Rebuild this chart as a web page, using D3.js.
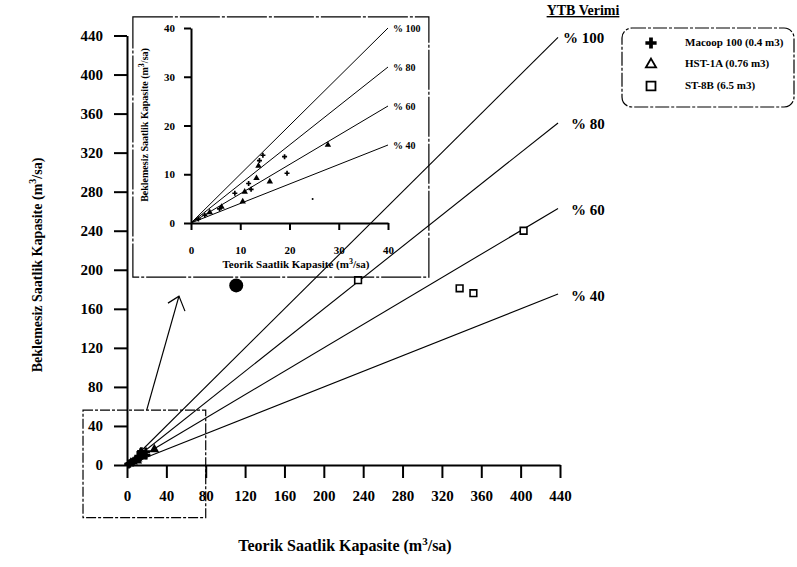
<!DOCTYPE html>
<html lang="tr">
<head>
    <meta charset="UTF-8">
    <title>YTB Verimi</title>
    <style>
        body { margin: 0; background: #fff; }
        svg text { font-family: 'Liberation Serif', 'Times New Roman', serif; font-weight: bold; fill: #000; }
        .axis path, .axis line { stroke: #000; }
    </style>
    <script src="https://cdnjs.cloudflare.com/ajax/libs/d3/7.8.5/d3.min.js"></script>
</head>
<body>
    <svg id="chart" width="797" height="567"></svg>
    <script>
        // tick labels
        let mainTicks = [0, 40, 80, 120, 160, 200, 240, 280, 320, 360, 400, 440];
        let insetTicks = [0, 10, 20, 30, 40];

        // efficiency lines (YTB Verimi, %)
        let efficiencies = [100, 80, 60, 40];

        // measured points [theoretical, no-wait] in m3/sa
        let macoopPts = [[14.6, 13.9], [13.9, 12.8], [19.0, 13.6], [19.5, 10.2], [11.7, 8.1],
                         [12.2, 6.9], [8.9, 6.1], [5.8, 2.9], [2.8, 1.6], [1.5, 0.8]];
        let hstPts = [[13.7, 11.7], [27.8, 16.0], [16.0, 8.5], [13.3, 9.2], [10.9, 6.4],
                      [10.5, 4.4], [6.2, 3.3], [3.8, 2.2]];
        let st8bPts = [[234.8, 189.4], [338, 181], [352, 176], [403, 240]];
        let blobPts = [[111, 184]];
        let speckPts = [[24.7, 4.9]];

        let legendItems = ["Macoop 100 (0.4 m3)", "HST-1A (0.76 m3)", "ST-8B (6.5 m3)"];

        let svg = d3.select("#chart");

        // ---------- main chart ----------
        let x = d3.scaleLinear().domain([0, 440]).range([127, 560]);
        let y = d3.scaleLinear().domain([0, 440]).range([465, 35.5]);

        let xAxis = svg.append("g")
            .attr("class", "axis")
            .attr("transform", "translate(0," + y(0) + ")")
            .call(d3.axisBottom(x).tickValues(mainTicks).tickSize(13).tickSizeOuter(0).tickPadding(12));
        xAxis.select(".domain").attr("stroke-width", 2);
        xAxis.selectAll(".tick line").attr("stroke-width", 2);
        xAxis.selectAll("text").style("font-size", "15px");

        let yAxis = svg.append("g")
            .attr("class", "axis")
            .attr("transform", "translate(" + x(0) + ",0)")
            .call(d3.axisLeft(y).tickValues(mainTicks).tickSize(13).tickSizeOuter(0).tickPadding(11));
        yAxis.select(".domain").attr("stroke-width", 2);
        yAxis.selectAll(".tick line").attr("stroke-width", 2);
        yAxis.selectAll("text").style("font-size", "15px");

        let lineEnd = 438;
        svg.selectAll(".effLine")
            .data(efficiencies)
            .enter().append("line")
            .attr("class", "effLine")
            .attr("x1", x(0)).attr("y1", y(0))
            .attr("x2", x(lineEnd))
            .attr("y2", d => y(lineEnd * d / 100))
            .attr("stroke", "#000").attr("stroke-width", 1.1);

        svg.selectAll(".effLabel")
            .data(efficiencies)
            .enter().append("text")
            .attr("class", "effLabel")
            .attr("x", d => d == 100 ? x(440) + 3 : x(440) + 11)
            .attr("y", d => y(440 * d / 100) + 4)
            .attr("dominant-baseline", "middle")
            .style("font-size", "15px")
            .text(d => "% " + d);

        svg.append("text")
            .attr("x", 583).attr("y", 15)
            .attr("text-anchor", "middle")
            .style("font-size", "14px")
            .style("text-decoration", "underline")
            .text("YTB Verimi");

        // points in main chart
        let crossSym = d3.symbol().type(d3.symbolCross);
        let triSym = d3.symbol().type(d3.symbolTriangle);
        let sqSym = d3.symbol().type(d3.symbolSquare);

        svg.selectAll(".mCross")
            .data(macoopPts)
            .enter().append("path")
            .attr("d", crossSym.size(40)())
            .attr("transform", d => "translate(" + x(d[0]) + "," + y(d[1]) + ")")
            .attr("fill", "#000");
        svg.selectAll(".mTri")
            .data(hstPts)
            .enter().append("path")
            .attr("d", triSym.size(40)())
            .attr("transform", d => "translate(" + x(d[0]) + "," + y(d[1]) + ")")
            .attr("fill", "#000");
        svg.selectAll(".mSq")
            .data(st8bPts)
            .enter().append("path")
            .attr("d", sqSym.size(45)())
            .attr("transform", d => "translate(" + x(d[0]) + "," + y(d[1]) + ")")
            .attr("fill", "#fff").attr("stroke", "#000").attr("stroke-width", 1.6);
        svg.selectAll(".mBlob")
            .data(blobPts)
            .enter().append("circle")
            .attr("cx", d => x(d[0])).attr("cy", d => y(d[1]))
            .attr("r", 7).attr("fill", "#000");

        // zoom box and arrow
        let boxX = [-44.7, 80], boxY = [-54, 56.3];
        svg.append("rect")
            .attr("x", x(boxX[0])).attr("y", y(boxY[1]))
            .attr("width", x(boxX[1]) - x(boxX[0]))
            .attr("height", y(boxY[0]) - y(boxY[1]))
            .attr("fill", "none").attr("stroke", "#000").attr("stroke-width", 1.2)
            .attr("stroke-dasharray", "10,2,3,2");

        let arrowFrom = [20, 56.3], arrowTo = [52.8, 173];
        svg.append("line")
            .attr("x1", x(arrowFrom[0])).attr("y1", y(arrowFrom[1]))
            .attr("x2", x(arrowTo[0])).attr("y2", y(arrowTo[1]))
            .attr("stroke", "#000").attr("stroke-width", 1.2);
        let ax = x(arrowTo[0]), ay = y(arrowTo[1]);
        svg.append("path")
            .attr("d", "M" + (ax - 11) + "," + (ay + 7) + "L" + ax + "," + ay + "L" + (ax + 6) + "," + (ay + 15))
            .attr("fill", "none").attr("stroke", "#000").attr("stroke-width", 1.2);

        // axis titles
        svg.append("text")
            .attr("x", 345).attr("y", 551)
            .attr("text-anchor", "middle")
            .style("font-size", "16px")
            .html("Teorik Saatlik Kapasite (m<tspan dy='-6' font-size='11px'>3</tspan><tspan dy='6'>/sa)</tspan>");

        svg.append("text")
            .attr("transform", "translate(42,265) rotate(-90)")
            .attr("text-anchor", "middle")
            .style("font-size", "14px")
            .html("Beklemesiz Saatlik Kapasite (m<tspan dy='-6' font-size='10px'>3</tspan><tspan dy='6'>/sa)</tspan>");

        // ---------- inset ----------
        let ix = d3.scaleLinear().domain([0, 40]).range([191, 388]);
        let iy = d3.scaleLinear().domain([0, 40]).range([223, 28]);

        let frameX = [-11.8, 48.3], frameY = [-11.1, 42.3];
        svg.append("rect")
            .attr("x", ix(frameX[0])).attr("y", iy(frameY[1]))
            .attr("width", ix(frameX[1]) - ix(frameX[0]))
            .attr("height", iy(frameY[0]) - iy(frameY[1]))
            .attr("fill", "none").attr("stroke", "#000").attr("stroke-width", 1.2)
            .attr("stroke-dasharray", "40,2,3,2");

        let ixAxis = svg.append("g")
            .attr("class", "axis")
            .attr("transform", "translate(0," + iy(0) + ")")
            .call(d3.axisBottom(ix).tickValues(insetTicks).tickSize(7).tickSizeOuter(0).tickPadding(16));
        ixAxis.select(".domain").attr("stroke-width", 2);
        ixAxis.selectAll(".tick line").attr("stroke-width", 2);
        ixAxis.selectAll("text").style("font-size", "11px");

        let iyAxis = svg.append("g")
            .attr("class", "axis")
            .attr("transform", "translate(" + ix(0) + ",0)")
            .call(d3.axisLeft(iy).tickValues(insetTicks).tickSize(7).tickSizeOuter(0).tickPadding(9));
        iyAxis.select(".domain").attr("stroke-width", 2);
        iyAxis.selectAll(".tick line").attr("stroke-width", 2);
        iyAxis.selectAll("text").style("font-size", "11px");

        svg.selectAll(".iLine")
            .data(efficiencies)
            .enter().append("line")
            .attr("class", "iLine")
            .attr("x1", ix(0)).attr("y1", iy(0))
            .attr("x2", ix(40))
            .attr("y2", d => iy(40 * d / 100))
            .attr("stroke", "#000").attr("stroke-width", 1);

        svg.selectAll(".iLabel")
            .data(efficiencies)
            .enter().append("text")
            .attr("class", "iLabel")
            .attr("x", ix(40) + 5)
            .attr("y", d => iy(40 * d / 100) + 2)
            .attr("dominant-baseline", "middle")
            .style("font-size", "10px")
            .text(d => "% " + d);

        svg.selectAll(".iCross")
            .data(macoopPts)
            .enter().append("path")
            .attr("d", crossSym.size(14)())
            .attr("transform", d => "translate(" + ix(d[0]) + "," + iy(d[1]) + ")")
            .attr("fill", "#000");
        svg.selectAll(".iTri")
            .data(hstPts)
            .enter().append("path")
            .attr("d", triSym.size(18)())
            .attr("transform", d => "translate(" + ix(d[0]) + "," + iy(d[1]) + ")")
            .attr("fill", "#000");
        svg.selectAll(".iSpeck")
            .data(speckPts)
            .enter().append("circle")
            .attr("cx", d => ix(d[0])).attr("cy", d => iy(d[1]))
            .attr("r", 1).attr("fill", "#000");

        svg.append("text")
            .attr("x", 296).attr("y", 268)
            .attr("text-anchor", "middle")
            .style("font-size", "11px")
            .html("Teorik Saatlik Kapasite (m<tspan dy='-4' font-size='8px'>3</tspan><tspan dy='4'>/sa)</tspan>");

        svg.append("text")
            .attr("transform", "translate(148,125) rotate(-90)")
            .attr("text-anchor", "middle")
            .style("font-size", "10px")
            .html("Beklemesiz Saatlik Kapasite (m<tspan dy='-4' font-size='8px'>3</tspan><tspan dy='4'>/sa)</tspan>");

        // ---------- legend ----------
        let legend = svg.append("g").attr("transform", "translate(622,28)");
        legend.append("rect")
            .attr("width", 172).attr("height", 79)
            .attr("rx", 10).attr("ry", 10)
            .attr("fill", "#fff").attr("stroke", "#000").attr("stroke-width", 1.2)
            .attr("stroke-dasharray", "14,2,3,2");

        let legSyms = [crossSym.size(70)(), d3.symbol().type(d3.symbolTriangle).size(45)(), sqSym.size(80)()];
        let legRows = legend.selectAll(".legRow")
            .data(legendItems)
            .enter().append("g")
            .attr("class", "legRow")
            .attr("transform", (d, i) => "translate(29," + (15 + i * 21.5) + ")");
        legRows.append("path")
            .attr("d", (d, i) => legSyms[i])
            .attr("fill", (d, i) => i == 0 ? "#000" : "none")
            .attr("stroke", (d, i) => i == 0 ? "none" : "#000")
            .attr("stroke-width", 1.8);
        legRows.append("text")
            .attr("x", 34)
            .attr("dominant-baseline", "middle")
            .style("font-size", "11px")
            .text(d => d);
    </script>
</body>
</html>
